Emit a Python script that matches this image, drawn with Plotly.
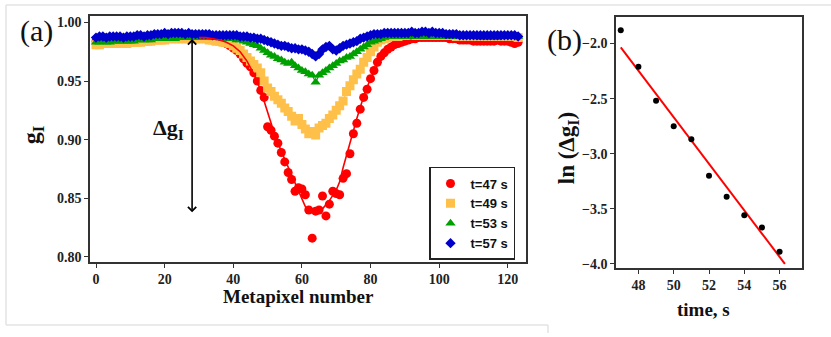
import plotly.graph_objects as go

W, H = 831, 337

# ---------------- data: panel (a) ----------------
metapixel = list(range(124))

g_t47 = [
    0.984, 0.984, 0.984, 0.984, 0.985, 0.985, 0.985, 0.985, 0.985, 0.985,
    0.985, 0.986, 0.986, 0.986, 0.986, 0.986, 0.986, 0.987, 0.987, 0.987,
    0.987, 0.987, 0.987, 0.987, 0.987, 0.987, 0.987, 0.987, 0.987, 0.987,
    0.987, 0.987, 0.986, 0.986, 0.985, 0.985, 0.984, 0.983, 0.982, 0.980,
    0.978, 0.976, 0.973, 0.969, 0.965, 0.962, 0.957, 0.950, 0.942, 0.936,
    0.911, 0.908, 0.903, 0.897, 0.889, 0.881, 0.872, 0.866, 0.856, 0.859,
    0.858, 0.853, 0.840, 0.816, 0.839, 0.840, 0.852, 0.835, 0.845, 0.856,
    0.854, 0.853, 0.867, 0.871, 0.888, 0.905, 0.914, 0.926, 0.936, 0.943,
    0.952, 0.959, 0.966, 0.971, 0.974, 0.977, 0.979, 0.981, 0.982, 0.983,
    0.984, 0.985, 0.986, 0.986, 0.987, 0.987, 0.987, 0.987, 0.987, 0.987,
    0.987, 0.987, 0.987, 0.986, 0.986, 0.986, 0.985, 0.985, 0.985, 0.985,
    0.984, 0.984, 0.984, 0.984, 0.984, 0.984, 0.984, 0.985, 0.984, 0.984,
    0.984, 0.983, 0.982, 0.983,
]

g_t49 = [
    0.981, 0.981, 0.982, 0.982, 0.982, 0.982, 0.982, 0.982, 0.982, 0.982,
    0.983, 0.983, 0.983, 0.983, 0.984, 0.984, 0.984, 0.985, 0.985, 0.985,
    0.985, 0.986, 0.986, 0.986, 0.986, 0.986, 0.986, 0.986, 0.986, 0.986,
    0.986, 0.986, 0.986, 0.985, 0.985, 0.984, 0.984, 0.983, 0.983, 0.982,
    0.980, 0.978, 0.976, 0.973, 0.970, 0.967, 0.964, 0.961, 0.957, 0.950,
    0.944, 0.941, 0.937, 0.934, 0.931, 0.927, 0.924, 0.920, 0.916, 0.918,
    0.913, 0.909, 0.905, 0.907, 0.904, 0.910, 0.912, 0.914, 0.918, 0.921,
    0.925, 0.929, 0.933, 0.941, 0.946, 0.951, 0.956, 0.960, 0.966, 0.970,
    0.975, 0.979, 0.983, 0.985, 0.986, 0.987, 0.988, 0.988, 0.988, 0.989,
    0.989, 0.989, 0.989, 0.989, 0.989, 0.989, 0.989, 0.989, 0.989, 0.989,
    0.989, 0.989, 0.989, 0.989, 0.989, 0.988, 0.988, 0.988, 0.988, 0.988,
    0.988, 0.988, 0.988, 0.988, 0.988, 0.988, 0.988, 0.988, 0.988, 0.988,
    0.988, 0.988, 0.988, 0.987,
]

g_t53 = [
    0.983, 0.983, 0.984, 0.983, 0.983, 0.984, 0.984, 0.984, 0.984, 0.984,
    0.984, 0.984, 0.985, 0.985, 0.985, 0.985, 0.985, 0.986, 0.986, 0.986,
    0.986, 0.986, 0.986, 0.986, 0.987, 0.987, 0.987, 0.987, 0.987, 0.987,
    0.987, 0.987, 0.987, 0.987, 0.987, 0.987, 0.987, 0.986, 0.986, 0.986,
    0.986, 0.985, 0.985, 0.984, 0.983, 0.982, 0.981, 0.980, 0.978, 0.976,
    0.974, 0.972, 0.971, 0.969, 0.968, 0.966, 0.965, 0.966, 0.963, 0.961,
    0.959, 0.958, 0.956, 0.955, 0.949, 0.955, 0.957, 0.959, 0.961, 0.963,
    0.965, 0.967, 0.968, 0.970, 0.971, 0.973, 0.975, 0.977, 0.979, 0.981,
    0.983, 0.984, 0.985, 0.986, 0.987, 0.988, 0.988, 0.988, 0.988, 0.988,
    0.988, 0.988, 0.988, 0.988, 0.988, 0.988, 0.988, 0.988, 0.988, 0.988,
    0.988, 0.988, 0.988, 0.988, 0.988, 0.988, 0.988, 0.988, 0.988, 0.988,
    0.988, 0.988, 0.987, 0.987, 0.987, 0.987, 0.987, 0.987, 0.988, 0.988,
    0.988, 0.988, 0.988, 0.988,
]

g_t57 = [
    0.987, 0.988, 0.988, 0.987, 0.988, 0.988, 0.988, 0.988, 0.987, 0.988,
    0.988, 0.988, 0.989, 0.989, 0.988, 0.989, 0.989, 0.990, 0.990, 0.990,
    0.991, 0.990, 0.991, 0.991, 0.991, 0.991, 0.990, 0.991, 0.990, 0.990,
    0.990, 0.990, 0.990, 0.990, 0.989, 0.989, 0.989, 0.989, 0.989, 0.989,
    0.989, 0.989, 0.988, 0.988, 0.988, 0.987, 0.987, 0.986, 0.986, 0.985,
    0.984, 0.983, 0.982, 0.981, 0.980, 0.980, 0.979, 0.978, 0.978, 0.977,
    0.977, 0.976, 0.975, 0.973, 0.971, 0.973, 0.977, 0.979, 0.980, 0.977,
    0.976, 0.978, 0.980, 0.981, 0.982, 0.983, 0.984, 0.986, 0.987, 0.988,
    0.989, 0.990, 0.990, 0.990, 0.991, 0.991, 0.991, 0.991, 0.991, 0.991,
    0.991, 0.991, 0.992, 0.991, 0.991, 0.992, 0.992, 0.991, 0.992, 0.991,
    0.991, 0.991, 0.990, 0.990, 0.990, 0.990, 0.989, 0.989, 0.989, 0.989,
    0.989, 0.989, 0.989, 0.989, 0.989, 0.989, 0.989, 0.989, 0.989, 0.989,
    0.989, 0.989, 0.989, 0.988,
]

# smooth guide line through the t=47 s data
fit47_x = [30, 32, 36, 38, 40, 42, 44, 46, 48, 50, 52, 54, 56, 58, 60,
           61, 62, 64, 65, 66, 68, 70, 71, 72, 74, 76, 78, 80, 82, 84, 86, 88, 90, 92]
fit47_y = [0.987, 0.987, 0.985, 0.983, 0.980, 0.975, 0.967,
           0.956, 0.942, 0.924, 0.905, 0.890, 0.877, 0.864, 0.850, 0.843, 0.839,
           0.838, 0.838, 0.841, 0.848, 0.857, 0.864, 0.876, 0.898, 0.918, 0.937,
           0.952, 0.964, 0.972, 0.978, 0.981, 0.983, 0.985]

series_names = ["t=47 s", "t=49 s", "t=53 s", "t=57 s"]

# delta-g arrow (metapixel position, from baseline to minimum)
arrow_x = 28
arrow_y = [0.987, 0.838]

# ---------------- data: panel (b) ----------------
time_s = [47, 48, 49, 50, 51, 52, 53, 54, 55, 56]
ln_dg = [-1.88, -2.21, -2.52, -2.75, -2.87, -3.20, -3.39, -3.56, -3.67, -3.89]
fit_t = [47.0, 56.3]
fit_ln = [-2.035, -4.0]

a_xticks = [0, 20, 40, 60, 80, 100, 120]
a_yticks = [0.80, 0.85, 0.90, 0.95, 1.00]
b_xticks = [48, 50, 52, 54, 56]
b_yticks = [-2.0, -2.5, -3.0, -3.5, -4.0]

# ---------------- styling ----------------
colors = ["#ff0000", "#ffc04a", "#00a000", "#0000cc"]
symbols = ["circle", "square", "triangle-up", "diamond"]
msizes = [9, 9, 9, 8]
SERIF = "Liberation Serif"
SANS = "Liberation Sans"

fig = go.Figure()

all_series = [g_t47, g_t49, g_t53, g_t57]
for i, ys in enumerate(all_series):
    if i > 0:
        fig.add_trace(go.Scatter(x=metapixel, y=ys, mode="lines",
                                 line=dict(color=colors[i], width=1.2),
                                 showlegend=False, hoverinfo="skip",
                                 xaxis="x", yaxis="y"))
    fig.add_trace(go.Scatter(x=metapixel, y=ys, mode="markers", name=series_names[i],
                             marker=dict(color=colors[i], symbol=symbols[i],
                                         size=msizes[i], line=dict(width=0)),
                             xaxis="x", yaxis="y"))

# red guide line drawn on top of everything in panel (a)
fig.add_trace(go.Scatter(x=fit47_x, y=fit47_y, mode="lines",
                         line=dict(color=colors[0], width=1.6),
                         showlegend=False, hoverinfo="skip",
                         xaxis="x", yaxis="y"))

fig.add_trace(go.Scatter(x=fit_t, y=fit_ln, mode="lines",
                         line=dict(color="#ff0000", width=2),
                         showlegend=False, xaxis="x2", yaxis="y2"))
fig.add_trace(go.Scatter(x=time_s, y=ln_dg, mode="markers",
                         marker=dict(color="black", size=6),
                         showlegend=False, xaxis="x2", yaxis="y2"))


def px_x(p):
    return p / W


def px_y(p):
    return 1 - p / H


def axis_style():
    return dict(showline=True, linecolor="#333333", linewidth=1.5, mirror=True,
                ticks="outside", ticklen=4, tickwidth=1.2, tickcolor="#333333",
                showgrid=False, zeroline=False,
                tickfont=dict(family=SERIF, size=14, color="#222222", weight="bold"))


fig.update_layout(
    width=W, height=H,
    margin=dict(l=0, r=0, t=0, b=0),
    paper_bgcolor="white", plot_bgcolor="white",
    font=dict(family=SERIF),
    xaxis=dict(domain=[px_x(90), px_x(526)], range=[-1.75, 125.3],
               tickvals=a_xticks, anchor="y", **axis_style()),
    yaxis=dict(domain=[px_y(265), px_y(16)], range=[0.7958, 1.0056],
               tickvals=a_yticks, tickformat=".2f", anchor="x", **axis_style()),
    xaxis2=dict(domain=[px_x(616), px_x(802)], range=[46.73, 57.27],
                tickvals=b_xticks, anchor="y2", **axis_style()),
    yaxis2=dict(domain=[px_y(271), px_y(17)], range=[-4.036, -1.757],
                tickvals=b_yticks, tickformat=".1f", anchor="x2", **axis_style()),
    legend=dict(x=px_x(429), y=px_y(169), xanchor="left", yanchor="top",
                bordercolor="#222222", borderwidth=1.5, bgcolor="white",
                font=dict(family=SANS, size=13, color="#111111", weight="bold"),
                tracegroupgap=0, itemwidth=30),
    showlegend=True,
)


def label(text, x, y, size, bold=True, angle=0, family=SERIF):
    f = dict(family=family, size=size, color="#111111")
    if bold:
        f["weight"] = "bold"
    return dict(text=text, x=px_x(x), y=px_y(y), xref="paper", yref="paper",
                xanchor="center", yanchor="middle", textangle=angle,
                showarrow=False, font=f)


annotations = [
    label("(a)", 36, 31, 30, bold=False),
    label("(b)", 564, 40, 30, bold=False),
    label("g<sub>I</sub>", 33, 137, 24, angle=-90),
    label("Δg<sub>I</sub>", 168, 131, 22),
    label("Metapixel number", 298, 300, 19),
    label("ln (Δg<sub>I</sub>)", 568, 150, 23, angle=-90),
    label("time, s", 703, 313, 19),
    dict(x=arrow_x, y=arrow_y[1], ax=arrow_x, ay=arrow_y[0], xref="x", yref="y",
         axref="x", ayref="y", text="", showarrow=True, arrowhead=4, startarrowhead=4,
         arrowside="end+start", arrowsize=1.0, arrowwidth=1.6, arrowcolor="black"),
]
fig.update_layout(annotations=annotations)

# light frame around the figure panels
gray = "#e3e3e3"
shapes = [
    dict(type="line", xref="paper", yref="paper", x0=px_x(6), x1=1, y0=px_y(5), y1=px_y(5),
         line=dict(color=gray, width=1.5)),
    dict(type="line", xref="paper", yref="paper", x0=px_x(6), x1=px_x(6), y0=px_y(5), y1=px_y(329),
         line=dict(color=gray, width=1.5)),
    dict(type="line", xref="paper", yref="paper", x0=px_x(6), x1=px_x(548), y0=px_y(329), y1=px_y(329),
         line=dict(color=gray, width=1.5)),
    dict(type="line", xref="paper", yref="paper", x0=px_x(548), x1=px_x(548), y0=px_y(329), y1=0,
         line=dict(color=gray, width=1.5)),
]
fig.update_layout(shapes=shapes)

fig.write_html("out.html", config={"displayModeBar": False},
               post_script="document.body.style.margin='0';")
